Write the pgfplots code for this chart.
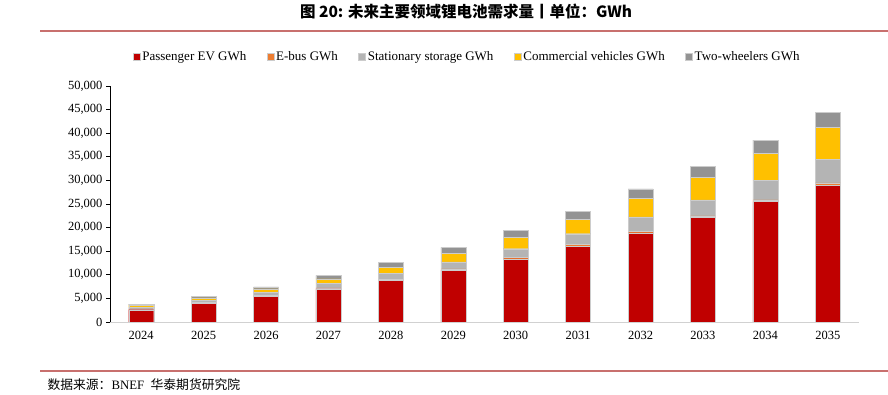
\documentclass[border=0pt]{standalone}
\usepackage{pgfplots}
\pgfplotsset{compat=1.18}
\usepackage{pgfplotstable}
\usepackage{fontspec}
\setmainfont{Liberation Serif}
\newfontfamily\cjk{Noto Sans CJK SC}
\definecolor{cP}{HTML}{C00000}
\definecolor{cE}{HTML}{ED7D31}
\definecolor{cS}{HTML}{B4B4B4}
\definecolor{cC}{HTML}{FFC000}
\definecolor{cT}{HTML}{939393}
\definecolor{rline}{HTML}{C8706E}
\pgfplotstableread{
x P E S C T
0 2600 200 350 350 300
1 3900 200 500 500 350
2 5400 200 650 780 420
3 7000 210 990 920 780
4 8800 280 1200 1340 1000
5 11000 280 1480 1840 1200
6 13400 280 1840 2470 1480
7 16000 400 2300 3100 1700
8 18900 350 3000 3900 2050
9 22100 400 3400 4800 2330
10 25500 400 4100 5800 2750
11 29000 500 4900 6900 3100
}\data
\begin{document}
\begin{tikzpicture}
\useasboundingbox (0,0) rectangle (888bp,395bp);
\node at (466bp,383bp) {\cjk\bfseries\fontsize{15.5bp}{18bp}\selectfont 图 20: 未来主要领域锂电池需求量丨单位：GWh};
\draw[rline, line width=1.3bp] (40bp,364bp) -- (888bp,364bp);
\draw[rline, line width=1.3bp] (40bp,24bp) -- (888bp,24bp);
\node[anchor=west] at (44bp,10bp) {\fontsize{12.8bp}{15bp}\selectfont{\cjk 数据来源：}BNEF\ \ {\cjk 华泰期货研究院}};
\begin{axis}[
  at={(110bp,73bp)}, anchor=south west,
  scale only axis, width=749bp, height=236bp,
  ybar stacked, bar width=25bp,
  xmin=-0.5, xmax=11.5, ymin=0, ymax=50000,
  xtick=data,
  xticklabels={2024,2025,2026,2027,2028,2029,2030,2031,2032,2033,2034,2035},
  ytick={0,5000,...,50000},
  scaled y ticks=false,
  /pgf/number format/.cd, 1000 sep={,}, assume math mode=true, /pgfplots/.cd,
  axis x line=bottom, axis y line=left,
  axis line style={-},
  x axis line style={draw=black!18, line width=0.8bp},
  y axis line style={draw=black, line width=0.8bp},
  xtick style={draw=none},
  ytick style={draw=black, line width=0.8bp},
  tick align=outside, major tick length=4bp,
  ticklabel style={font=\fontsize{12.5bp}{14bp}\selectfont},
  xticklabel style={yshift=-2bp},
  legend style={at={(0.477,1.123)}, anchor=center, draw=none, font=\fontsize{13bp}{15bp}\selectfont, legend columns=5, /tikz/every even column/.append style={column sep=18.5bp}},
  legend image code/.code={\fill[#1] (0bp,-3.5bp) rectangle (7bp,3.5bp);},
  every axis plot/.append style={draw=white!80!black, line width=0.4bp},
]
\addplot[fill=cP] table[x=x,y=P]{\data};
\addplot[fill=cE] table[x=x,y=E]{\data};
\addplot[fill=cS] table[x=x,y=S]{\data};
\addplot[fill=cC] table[x=x,y=C]{\data};
\addplot[fill=cT] table[x=x,y=T]{\data};
\legend{Passenger EV GWh, E-bus GWh, Stationary storage GWh, Commercial vehicles GWh, Two-wheelers GWh}
\end{axis}
\end{tikzpicture}
\end{document}
